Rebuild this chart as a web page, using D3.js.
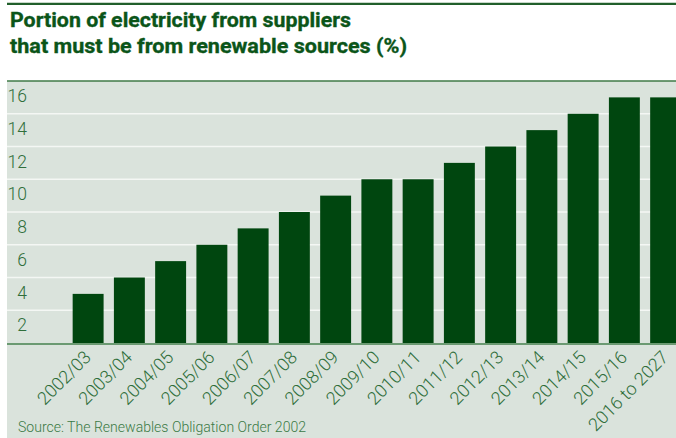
<!DOCTYPE html>
<html>
<head>
<meta charset="utf-8">
<script src="https://cdn.jsdelivr.net/npm/d3@7"></script>
<style>
  html, body { margin: 0; padding: 0; background: #ffffff; }
  svg { display: block; }
</style>
</head>
<body>
<svg id="chart" width="676" height="438"></svg>
<script>
// ---- data ----
const categories = ["2002/03", "2003/04", "2004/05", "2005/06", "2006/07", "2007/08", "2008/09",
  "2009/10", "2010/11", "2011/12", "2012/13", "2013/14", "2014/15", "2015/16", "2016 to 2027"];
const values = [3, 4, 5, 6, 7, 8, 9, 10, 10, 11, 12, 13, 14, 15, 15];
const yTicks = [2, 4, 6, 8, 10, 12, 14, 16];
const titleLines = ["Portion of electricity from suppliers", "that must be from renewable sources (%)"];
const sourceText = "Source: The Renewables Obligation Order 2002";

// ---- styles ----
const W = 676, H = 438;
const panelLeft = 7, panelTop = 81, baseY = 343;
const barColor = "#00460f", panelBg = "#dae3dc", textGreen = "#2f6e3a", titleColor = "#0b5519";
const font = "Roboto, 'Noto Sans', sans-serif";

const svg = d3.select("#chart");

// top rule
svg.append("line").attr("x1", panelLeft).attr("x2", W).attr("y1", 3.8).attr("y2", 3.8)
  .attr("stroke", "#215f2b").attr("stroke-width", 2.2);

// title
const title = svg.append("g");
const titleWidths = [341, 397];
titleLines.forEach((t, i) => {
  title.append("text").attr("x", 10).attr("y", 27.3 + i * 26)
    .attr("fill", titleColor).attr("font-family", font).attr("font-weight", 700)
    .attr("font-size", 20.5).attr("stroke", titleColor).attr("stroke-width", 0.35)
    .attr("textLength", titleWidths[i]).attr("lengthAdjust", "spacingAndGlyphs")
    .text(t);
});

// panel
svg.append("rect").attr("x", panelLeft).attr("y", panelTop).attr("width", W - panelLeft).attr("height", H - panelTop)
  .attr("fill", panelBg);

// scales
const x = d3.scaleBand().domain(categories).range([67.5, 686.25]).paddingInner(0.25).paddingOuter(0.125);
const y = d3.scaleLinear().domain([0, 16]).range([baseY, panelTop]);

// grid
svg.append("g").selectAll("line").data(yTicks.filter(d => d < 16)).join("line")
  .attr("x1", panelLeft).attr("x2", W)
  .attr("y1", d => y(d)).attr("y2", d => y(d))
  .attr("stroke", "#f4f7f4").attr("stroke-width", 1.5);

// panel top border
svg.append("line").attr("x1", panelLeft).attr("x2", W).attr("y1", panelTop).attr("y2", panelTop)
  .attr("stroke", "#3f7a47").attr("stroke-width", 1.5);

// y labels
const yAxis = d3.axisLeft(y).tickValues(yTicks).tickSize(0).tickPadding(0).tickFormat(d3.format("d"));
const yg = svg.append("g").attr("transform", "translate(27,0)").call(yAxis);
yg.select(".domain").remove();
yg.selectAll("text").attr("fill", textGreen).attr("font-family", font).attr("font-weight", 300)
  .attr("font-size", 17.5).attr("dy", null).attr("dominant-baseline", null)
  .attr("y", 20.7).attr("text-anchor", "end");

// bars
svg.append("g").selectAll("rect").data(values).join("rect")
  .attr("x", (d, i) => x(categories[i]))
  .attr("width", x.bandwidth())
  .attr("y", d => y(d))
  .attr("height", d => baseY - y(d))
  .attr("fill", barColor);

// baseline
svg.append("line").attr("x1", panelLeft).attr("x2", W).attr("y1", baseY + 1).attr("y2", baseY + 1)
  .attr("stroke", "#6b9a72").attr("stroke-width", 2);

// x labels
const xAxis = d3.axisBottom(x).tickSize(0).tickPadding(0);
const xg = svg.append("g").attr("transform", `translate(0,${baseY})`).call(xAxis);
xg.select(".domain").remove();
xg.selectAll(".tick text")
  .attr("fill", textGreen).attr("font-family", font).attr("font-weight", 300).attr("font-size", 18)
  .attr("y", 0).attr("dy", null)
  .attr("text-anchor", "end")
  .attr("transform", "translate(4,15.5) rotate(-45)");

// source
const src = svg.append("text").attr("x", 18).attr("y", 431.7)
  .attr("fill", "#3a7a45").attr("font-family", font).attr("font-weight", 300).attr("font-size", 15.5)
  .text(sourceText);
const sl = src.node().getComputedTextLength();
if (sl > 288) src.attr("textLength", 288).attr("lengthAdjust", "spacingAndGlyphs");
</script>
</body>
</html>
